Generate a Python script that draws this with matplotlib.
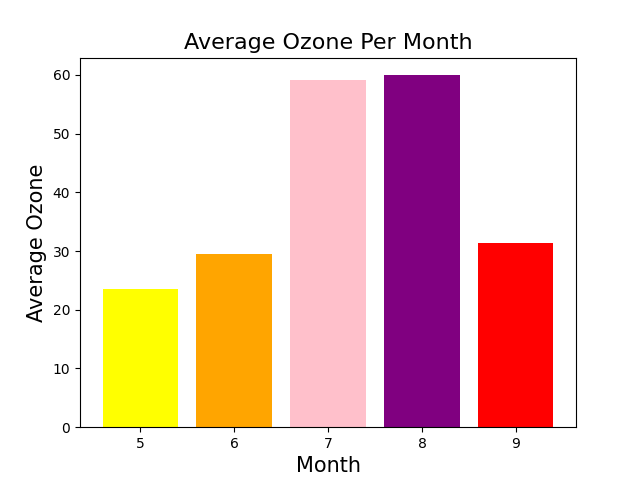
import matplotlib
matplotlib.use('Agg')
import matplotlib.pyplot as plt

months = [5, 6, 7, 8, 9]
avg_ozone = [23.62, 29.44, 59.12, 59.96, 31.45]
colors = ['yellow', 'orange', 'pink', 'purple', 'red']

fig, ax = plt.subplots(figsize=(6.4, 4.8), dpi=100)
ax.bar(months, avg_ozone, color=colors)
ax.set_title('Average Ozone Per Month', fontsize=16)
ax.set_xlabel('Month', fontsize=15)
ax.set_ylabel('Average Ozone', fontsize=15)
fig.savefig('out.png')
